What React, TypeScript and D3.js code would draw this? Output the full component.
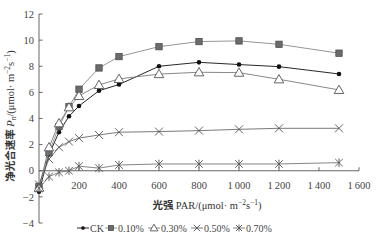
import React from "react";
import * as d3 from "d3";

const parValues = [0, 50, 100, 150, 200, 300, 400, 600, 800, 1000, 1200, 1500];
const seriesNames = ["CK", "0.10%", "0.30%", "0.50%", "0.70%"];
const ck = [-1.6, 1.25, 2.95, 4.17, 4.96, 6.13, 6.6, 8.0, 8.3, 8.13, 7.97, 7.41];
const p010 = [-1.2, 1.4, 3.38, 4.9, 6.24, 7.87, 8.74, 9.5, 9.89, 9.94, 9.68, 9.0];
const p030 = [-1.3, 1.8, 3.64, 4.86, 5.73, 6.57, 7.03, 7.4, 7.54, 7.51, 7.0, 6.19];
const p050 = [-1.05, 0.9, 1.8, 2.23, 2.5, 2.74, 2.95, 3.0, 3.07, 3.17, 3.25, 3.25];
const p070 = [-1.35, -0.45, -0.12, 0.0, 0.35, 0.2, 0.44, 0.52, 0.52, 0.52, 0.52, 0.62];
const xTicks = [200, 400, 600, 800, 1000, 1200, 1400, 1600];
const yTicks = [-4, -2, 0, 2, 4, 6, 8, 10, 12];

const seriesData = [ck, p010, p030, p050, p070];
const lineColors = ["#111", "#8a8a8a", "#7a7a7a", "#6a6a6a", "#777"];
const markerTypes = ["dot", "square", "triangle", "x", "star"];

const serif = "'Liberation Serif', 'DejaVu Serif', serif";
const cjk = "'Noto Sans CJK SC', sans-serif";

function Marker({ type, x, y, scale = 1 }: { type: string; x: number; y: number; scale?: number }) {
  if (type === "dot") {
    return <circle cx={x} cy={y} r={2.3 * scale} fill="#111" />;
  }
  if (type === "square") {
    const h = 3.2 * scale;
    return <rect x={x - h} y={y - h} width={2 * h} height={2 * h} fill="#6b6b6b" stroke="#444" strokeWidth={0.7} />;
  }
  if (type === "triangle") {
    const p = d3.symbol(d3.symbolTriangle, 40 * scale * scale)();
    return <path d={p as string} transform={`translate(${x},${y + 0.8 * scale})`} fill="#fff" stroke="#555" strokeWidth={0.9} />;
  }
  if (type === "x") {
    const s = 4 * scale;
    return (
      <path d={`M${x - s},${y - s}L${x + s},${y + s}M${x - s},${y + s}L${x + s},${y - s}`} stroke="#555" strokeWidth={0.9} fill="none" />
    );
  }
  const s = 3.8 * scale;
  return (
    <path
      d={`M${x - s},${y - s}L${x + s},${y + s}M${x - s},${y + s}L${x + s},${y - s}M${x},${y - s - 0.5}L${x},${y + s + 0.5}`}
      stroke="#555"
      strokeWidth={0.9}
      fill="none"
    />
  );
}

export default function App() {
  const x = d3.scaleLinear().domain([0, 1600]).range([39, 359]);
  const y = d3.scaleLinear().domain([-4, 12]).range([223, 14]);
  const line = d3
    .line<[number, number]>()
    .x((d) => x(d[0]))
    .y((d) => y(d[1]));

  const legendX = [77, 105, 148, 191, 233];
  const legendY = 228;

  return (
    <svg width={376} height={245} style={{ position: "absolute", left: 0, top: 0, background: "#fff" }}>
      {/* axes */}
      <line x1={x(0)} x2={x(0)} y1={y(-4)} y2={y(12)} stroke="#555" strokeWidth={0.9} />
      <line x1={x(0)} x2={x(1600)} y1={y(0)} y2={y(0)} stroke="#555" strokeWidth={0.9} />
      {yTicks.map((t) => (
        <g key={t}>
          <line x1={x(0)} x2={x(0) + 3.5} y1={y(t)} y2={y(t)} stroke="#555" strokeWidth={0.9} />
          <text x={34} y={y(t)} dy="0.35em" textAnchor="end" fontFamily={serif} fontSize={10.5} fill="#444">
            {t < 0 ? `\u2212${-t}` : t}
          </text>
        </g>
      ))}
      {xTicks.map((t) => (
        <g key={t}>
          <line x1={x(t)} x2={x(t)} y1={y(0)} y2={y(0) - 3.5} stroke="#555" strokeWidth={0.9} />
          <text x={x(t)} y={189} textAnchor="middle" fontFamily={serif} fontSize={10.5} fill="#444">
            {t >= 1000 ? `${Math.floor(t / 1000)}\u2009${String(t % 1000).padStart(3, "0")}` : t}
          </text>
        </g>
      ))}
      {/* series */}
      {seriesData.map((vals, i) => {
        const pts = parValues.map((p, j) => [p, vals[j]] as [number, number]);
        return (
          <g key={seriesNames[i]}>
            <path d={line(pts) as string} fill="none" stroke={lineColors[i]} strokeWidth={0.9} />
            {pts.map((d, j) => (
              <Marker key={j} type={markerTypes[i]} x={x(d[0])} y={y(d[1])} />
            ))}
          </g>
        );
      })}
      {/* y title */}
      <text
        transform={`translate(14,116) rotate(-90)`}
        textAnchor="middle"
        fontSize={10.5}
        fill="#333"
        fontFamily={serif}
      >
        <tspan fontFamily={cjk} fontWeight={700}>净光合速率 </tspan>
        <tspan fontStyle="italic">P</tspan>
        <tspan fontStyle="italic" fontSize={7.5} dy={2}>n</tspan>
        <tspan dy={-2}>/(μmol· m</tspan>
        <tspan fontSize={7.5} dy={-4}>−2</tspan>
        <tspan dy={4}>s</tspan>
        <tspan fontSize={7.5} dy={-4}>−1</tspan>
        <tspan dy={4}>)</tspan>
      </text>
      {/* x title */}
      <text x={207} y={209} textAnchor="middle" fontSize={10.5} fill="#333" fontFamily={serif}>
        <tspan fontFamily={cjk} fontWeight={700}>光强 </tspan>
        <tspan>PAR/(μmol· m</tspan>
        <tspan fontSize={7.5} dy={-4}>−2</tspan>
        <tspan dy={4}>s</tspan>
        <tspan fontSize={7.5} dy={-4}>−1</tspan>
        <tspan dy={4}>)</tspan>
      </text>
      {/* legend */}
      {seriesNames.map((n, i) => (
        <g key={n}>
          <line x1={legendX[i]} x2={legendX[i] + 12} y1={legendY} y2={legendY} stroke={lineColors[i]} strokeWidth={0.9} />
          <Marker type={markerTypes[i]} x={legendX[i] + 6} y={legendY} scale={0.8} />
          <text x={legendX[i] + 13} y={legendY} dy="0.35em" fontFamily={serif} fontSize={10} fill="#444">
            {n}
          </text>
        </g>
      ))}
    </svg>
  );
}
